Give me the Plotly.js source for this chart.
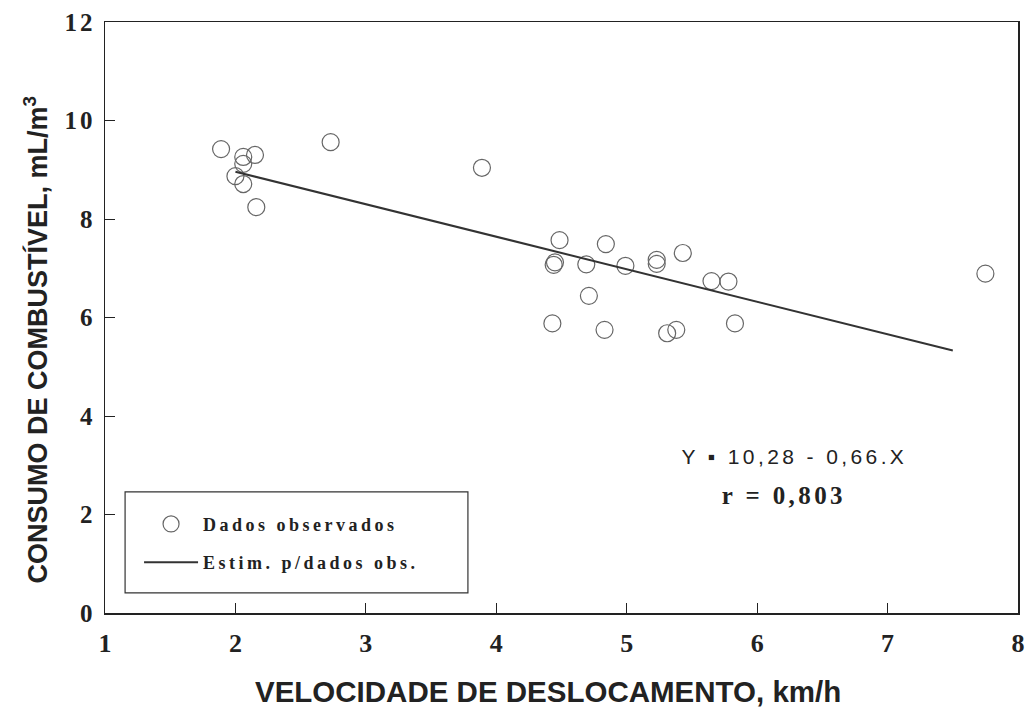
<!DOCTYPE html>
<html>
<head>
<meta charset="utf-8">
<script src="https://cdn.plot.ly/plotly-3.0.1.min.js"></script>
<style>
html,body{margin:0;padding:0;background:#fff;}
#chart{width:1025px;height:710px;}
.ytick text{letter-spacing:3px;}
.legendtext{letter-spacing:3.5px;}
g.annotation[data-index="2"] .annotation-text,
g.annotation[data-index="3"] .annotation-text{letter-spacing:3.4px;}
</style>
</head>
<body>
<div id="chart"></div>
<script>
// Observed data (velocity km/h, fuel consumption mL/m3)
const obsX = [1.89, 2.06, 2.15, 2.06, 2.00, 2.06, 2.16, 2.73, 3.89,
              4.485, 4.84, 4.45, 4.44, 4.69, 4.99, 5.23, 5.23, 5.43,
              5.65, 5.78, 4.71, 4.43, 4.83, 5.31, 5.38, 5.83, 7.75];
const obsY = [9.42, 9.26, 9.30, 9.12, 8.87, 8.71, 8.24, 9.56, 9.04,
              7.57, 7.49, 7.12, 7.07, 7.08, 7.05, 7.17, 7.09, 7.31,
              6.74, 6.73, 6.44, 5.88, 5.75, 5.68, 5.75, 5.88, 6.89];
// Fitted line endpoints (Y = 10,28 - 0,66.X)
const fitX = [2.0, 7.5];
const fitY = [8.96, 5.33];
const xTicks = [1, 2, 3, 4, 5, 6, 7, 8];
const yTicks = [0, 2, 4, 6, 8, 10, 12];
const legendNames = ['Dados observados', 'Estim. p/dados obs.'];
const xTitle = 'VELOCIDADE DE DESLOCAMENTO, km/h';
const yTitle = 'CONSUMO DE COMBUSTÍVEL, mL/m<sup>3</sup>';
const eqText = 'Y ▪ 10,28 - 0,66.X';
const rText = 'r = 0,803';

const serifBold = 'Liberation Serif, Times New Roman, serif';
const sansBold = 'Liberation Sans, Arial, sans-serif';

const traces = [
  {
    x: obsX, y: obsY, type: 'scatter', mode: 'markers', name: legendNames[0],
    legendgroup: 'a',
    marker: {symbol: 'circle-open', size: 17, color: '#666', line: {width: 1.2, color: '#666'}}
  },
  {
    x: fitX, y: fitY, type: 'scatter', mode: 'lines', name: legendNames[1],
    legendgroup: 'b',
    line: {color: '#333', width: 2}
  }
];

const layout = {
  width: 1025, height: 710,
  margin: {l: 105, r: 7, t: 22, b: 97},
  paper_bgcolor: '#fff', plot_bgcolor: '#fff',
  showlegend: true,
  legend: {
    x: 0.0373, y: 0.1815, xanchor: 'left', yanchor: 'top',
    borderwidth: 0, bgcolor: 'rgba(0,0,0,0)',
    font: {family: serifBold, size: 18, color: '#222', weight: 'bold'},
    tracegroupgap: 12, itemwidth: 54
  },
  shapes: [
    {type: 'rect', xref: 'paper', yref: 'paper',
     x0: 0.022, x1: 0.3975, y0: 0.034, y1: 0.205,
     line: {color: '#333', width: 1.2}, fillcolor: 'rgba(0,0,0,0)'}
  ],
  xaxis: {
    range: [1, 8], tickvals: xTicks, ticktext: xTicks.map(String),
    ticks: 'inside', ticklen: 10, tickwidth: 1, tickcolor: '#222',
    showline: true, linecolor: '#222', linewidth: 1.5, mirror: true,
    showgrid: false, zeroline: false, ticklabelstandoff: 6,
    tickfont: {family: serifBold, size: 26, color: '#222', weight: 'bold'}
  },
  yaxis: {
    range: [0, 12], tickvals: yTicks, ticktext: yTicks.map(String),
    ticks: 'inside', ticklen: 10, tickwidth: 1, tickcolor: '#222',
    showline: true, linecolor: '#222', linewidth: 1.5, mirror: true,
    showgrid: false, zeroline: false, ticklabelstandoff: 3,
    tickfont: {family: serifBold, size: 25, color: '#222', weight: 'bold'}
  },
  annotations: [
    {x: 0.485, y: -0.133, xref: 'paper', yref: 'paper', xanchor: 'center', yanchor: 'middle',
     text: xTitle, showarrow: false,
     font: {family: sansBold, size: 29.5, color: '#222', weight: 'bold'}},
    {x: -0.076, y: 0.462, xref: 'paper', yref: 'paper', xanchor: 'center', yanchor: 'middle',
     text: yTitle, showarrow: false, textangle: -90,
     font: {family: sansBold, size: 27, color: '#222', weight: 'bold'}},
    {x: 0.755, y: 0.265, xref: 'paper', yref: 'paper', xanchor: 'center', yanchor: 'middle',
     text: eqText, showarrow: false,
     font: {family: sansBold, size: 21, color: '#222'}},
    {x: 0.744, y: 0.198, xref: 'paper', yref: 'paper', xanchor: 'center', yanchor: 'middle',
     text: rText, showarrow: false,
     font: {family: serifBold, size: 25, color: '#222', weight: 'bold'}}
  ]
};

Plotly.newPlot('chart', traces, layout, {displayModeBar: false, staticPlot: true});
</script>
</body>
</html>
